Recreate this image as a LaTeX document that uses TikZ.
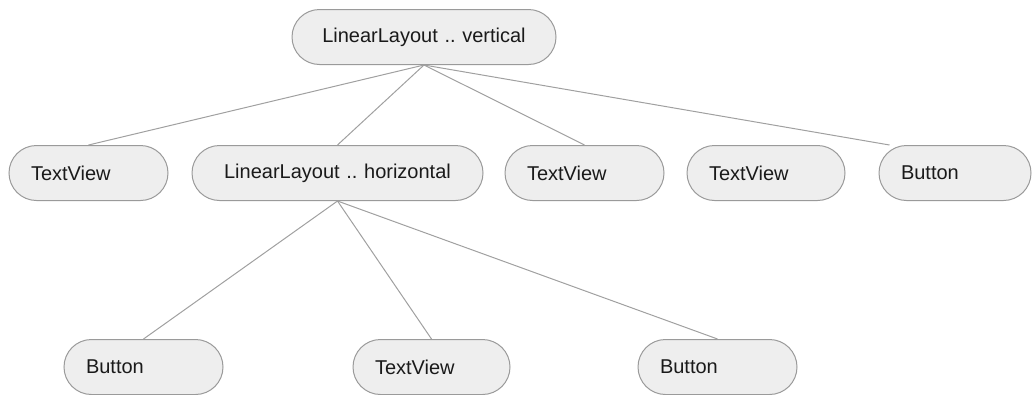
\documentclass[tikz,border=0pt]{standalone}
\usepackage{fontspec}
\setmainfont{Liberation Sans}
\frenchspacing
\definecolor{pillfill}{HTML}{EEEEEE}
\definecolor{pillborder}{HTML}{9A9A9A}
\definecolor{linkcol}{HTML}{A0A0A0}
\definecolor{txt}{HTML}{1A1A1A}
\begin{document}
\begin{tikzpicture}[x=1pt,y=-1pt,
  pill/.style={draw=pillborder, fill=pillfill, line width=1pt, rounded corners=27.5pt,
    minimum height=55pt, inner ysep=0pt, text=txt,
    font=\fontsize{20}{22}\selectfont},
  leftpill/.style={pill, inner xsep=22pt, text width=#1-44pt, align=left},
  midpill/.style={pill, inner xsep=0pt, text width=#1, align=center},
  link/.style={draw=linkcol, line width=1pt}]
\useasboundingbox (0,0) rectangle (1033,394);
% top
\node[midpill=264pt] (top) at (424,37) {LinearLayout .. vertical};
% row 2
\node[leftpill=159pt] (tv1) at (88.5,173) {TextView};
\node[midpill=291pt] (hor) at (337.5,173) {LinearLayout .. horizontal};
\node[leftpill=159pt] (tv2) at (584.5,173) {TextView};
\node[leftpill=158pt] (tv3) at (766,173) {TextView};
\node[leftpill=152pt] (btn1) at (955,173) {Button};
% row 3
\node[leftpill=159pt] (btn2) at (143.5,367) {Button};
\node[leftpill=157pt] (tv4) at (431.5,367) {TextView};
\node[leftpill=159pt] (btn3) at (717.5,367) {Button};
% connectors
\draw[link] (top.south) -- (tv1.north);
\draw[link] (top.south) -- (hor.north);
\draw[link] (top.south) -- (tv2.north);
\draw[link] (top.south) -- ([xshift=11pt]btn1.north west);
\draw[link] (hor.south) -- (btn2.north);
\draw[link] (hor.south) -- (tv4.north);
\draw[link] (hor.south) -- (btn3.north);
\end{tikzpicture}
\end{document}
